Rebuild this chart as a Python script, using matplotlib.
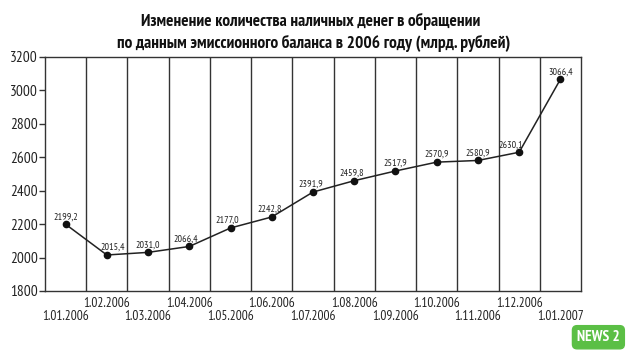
import matplotlib
matplotlib.use("Agg")
import matplotlib.pyplot as plt

plt.rcParams['font.family'] = ['PT Sans Narrow', 'DejaVu Sans']

dates = ["1.01.2006", "1.02.2006", "1.03.2006", "1.04.2006", "1.05.2006",
         "1.06.2006", "1.07.2006", "1.08.2006", "1.09.2006", "1.10.2006",
         "1.11.2006", "1.12.2006", "1.01.2007"]
cash = [2199.2, 2015.4, 2031.0, 2066.4, 2177.0, 2242.8, 2391.9,
        2459.8, 2517.9, 2570.9, 2580.9, 2630.1, 3066.4]

# small horizontal nudges of value labels (pixels), as on the original
label_dx = [0, 6, 0, -3, -3, -2, -2, -2, 0, 0, 0, -8, 0]

fig = plt.figure(figsize=(6.4, 3.58), dpi=100)
ax = fig.add_axes([0.0703, 0.1872, 0.8375, 0.6536])

x = list(range(len(dates)))
ax.plot(x, cash, color='#222222', lw=1.1, marker='o', ms=4.5,
        mfc='#111111', mec='#111111', zorder=3)

for i, v in enumerate(cash):
    txt = f"{v:.1f}".replace('.', ',')
    ax.annotate(txt, (i, v), xytext=(label_dx[i] * 0.72, 2.2),
                textcoords='offset points', ha='center', va='bottom',
                fontsize=7.2, color='#222222')

ax.set_xlim(-0.5, len(dates) - 0.5)
ax.set_ylim(1800, 3200)
ax.set_yticks(range(1800, 3201, 200))

ax.set_xticks(x)
ax.set_xticklabels(dates, fontsize=9.5, color='#222222')
ax.set_xticks([i + 0.5 for i in x[:-1]], minor=True)
ax.grid(True, which='minor', axis='x', color='#333333', lw=1.0)
ax.tick_params(axis='x', which='both', length=0, pad=4)
# every other date goes to a second, lower row
for i, t in enumerate(ax.xaxis.get_major_ticks()):
    if i % 2 == 0:
        t.set_pad(14)
ax.tick_params(axis='y', length=4, width=1, color='#333333',
               labelsize=11, labelcolor='#222222', pad=1)

for s in ax.spines.values():
    s.set_color('#333333')
    s.set_linewidth(1.0)

fig.text(0.485, 0.94, "Изменение количества наличных денег в обращении",
         ha='center', va='center', fontsize=12.5, fontweight='bold', color='#111111')
fig.text(0.49, 0.878, "по данным эмиссионного баланса в 2006 году (млрд. рублей)",
         ha='center', va='center', fontsize=12.5, fontweight='bold', color='#111111')

fig.text(0.935, 0.058, "NEWS 2", ha='center', va='center', fontsize=11,
         fontweight='bold', color='white',
         bbox=dict(boxstyle='round,pad=0.3', fc='#5bbf45', ec='#5bbf45'))

fig.savefig("out.png", dpi=100, facecolor='white')
